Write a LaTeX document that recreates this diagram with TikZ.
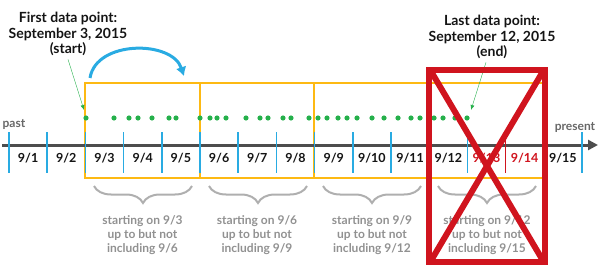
\documentclass[tikz,border=0pt]{standalone}
\usepackage{fontspec}
\setmainfont{Lato}
\usepackage{tikz}
\usetikzlibrary{arrows.meta,positioning,decorations.pathreplacing}
\definecolor{ink}{RGB}{20,20,20}
\definecolor{axisgray}{RGB}{77,77,77}
\definecolor{gold}{RGB}{253,185,19}
\definecolor{sky}{RGB}{41,171,226}
\definecolor{leaf}{RGB}{37,176,75}
\definecolor{crimson}{RGB}{208,20,30}
\definecolor{fog}{RGB}{145,145,145}
\definecolor{bracegray}{RGB}{175,175,175}
\tikzset{
  timeline/.style={line width=3pt,axisgray,-{Triangle[length=10pt,width=10pt]}},
  daytick/.style={line width=1.5pt,sky},
  window/.style={line width=2.5pt,gold},
  datelbl/.style={font=\bfseries\fontsize{12.5}{14}\selectfont,text=ink},
  headlbl/.style={font=\bfseries\fontsize{14}{15.5}\selectfont,align=center,text=ink},
  bracelbl/.style={font=\bfseries\fontsize{12}{14}\selectfont,align=center,text=fog},
  endlbl/.style={font=\bfseries\fontsize{12}{13}\selectfont,text=axisgray!85},
  pointer/.style={thin,leaf,-{Latex[length=5pt,width=4pt]}},
  hop/.style={line width=3pt,sky,-{Latex[length=9pt,width=11pt]}},
  curly/.style={line width=2pt,bracegray,decorate,decoration={brace,mirror,amplitude=17pt}},
  cross/.style={line width=6.5pt,crimson}
}
\begin{document}
\begin{tikzpicture}[x=1pt,y=-1pt]
  \useasboundingbox (0,0) rectangle (600,270);
  % the four weekly windows
  \foreach \l/\r in {85/200,200/314,314/429,429/544} {\draw[window] (\l,83) rectangle (\r,178);}
  \coordinate (axstart) at (2,145);
  \coordinate (axend) at (598,145);
  \draw[timeline] (axstart) -- (axend);
  \foreach \k in {0,...,15} {\draw[daytick] ({9+38.2*\k},132) -- ({9+38.2*\k},173);}
  \draw[daytick,crimson] ({9+38.2*13},132) -- ({9+38.2*13},173);
  \foreach \d in {1,...,12,15} {\node[datelbl] (d\d) at ({28.1+38.2*(\d-1)},158) {9/\d};}
  \foreach \d in {13,14} {\node[datelbl,text=crimson] (d\d) at ({28.1+38.2*(\d-1)},158) {9/\d};}
  \node[endlbl] (past) at (14,124) {past};
  \node[endlbl] (present) at (575,127) {present};
  % observations
  \foreach \x in {86,114,129,138,152,169,176,200,210,217,226,246,260,268,283,291,
    309,318,327,338,347,357,372,384,398,411,420,434,443,455,467}
    {\fill[leaf] (\x,118) circle (2.6pt);}
  \node[headlbl] (firstpt) at (68,34) {First data point:\\September 3, 2015\\(start)};
  \node[headlbl] (lastpt) at (492,37) {Last data point:\\September 12, 2015\\(end)};
  \coordinate (firstobs) at (84,110);
  \coordinate (lastobs) at (471,110);
  \draw[pointer] (firstpt.south) -- (firstobs);
  \draw[pointer] ([xshift=-6pt]lastpt.south) -- (lastobs);
  \coordinate (hopfrom) at (90,78);
  \coordinate (hopto) at (184,76);
  \draw[hop] (hopfrom) .. controls (96,40) and (172,40) .. (hopto);
  \foreach \l in {85,200,314,429} {\draw[curly] ({\l+9},186) -- ({\l+107},186);}
  \node[bracelbl] (w1) at (142.5,235) {starting on 9/3\\up to but not\\including 9/6};
  \node[bracelbl] (w2) at (257,235) {starting on 9/6\\up to but not\\including 9/9};
  \node[bracelbl] (w3) at (372,235) {starting on 9/9\\up to but not\\including 9/12};
  \node[bracelbl] (w4) at (487,235) {starting on 9/12\\up to but not\\including 9/15};
  % dropped last window
  \draw[cross] (429,70) rectangle (545,262);
  \draw[cross,line width=6pt] (432,73) -- (542,259) (542,73) -- (432,259);
\end{tikzpicture}
\end{document}
